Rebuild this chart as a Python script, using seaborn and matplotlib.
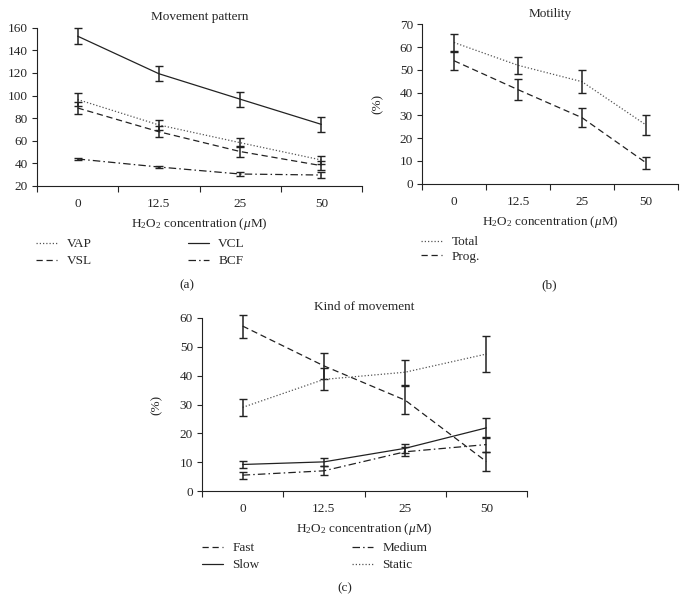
import numpy as np
import pandas as pd
import matplotlib
matplotlib.use("Agg")
import matplotlib.pyplot as plt
import seaborn as sns
from matplotlib.ticker import FixedLocator, NullFormatter
from matplotlib.lines import Line2D

# ---------------- data ----------------
conc = ["0", "12.5", "25", "50"]

# (a) Movement pattern
vap = [96.5, 74, 58.3, 43]
vap_err = [5.5, 4.4, 4.0, 3.5]
vsl = [89, 68, 50.5, 38]
vsl_err = [5, 5, 4.5, 4]
vcl = [152.5, 119.3, 96.8, 74.5]
vcl_err = [7, 6.5, 6.6, 6.5]
bcf = [43.9, 36.8, 30.6, 29.7]
bcf_err = [0.7, 1.0, 1.5, 3.0]

# (b) Motility
total = [62, 52, 44.8, 25.8]
total_err = [3.6, 3.8, 5.1, 4.4]
prog = [54, 41.3, 29, 9.2]
prog_err = [4, 4.5, 4.2, 2.7]

# (c) Kind of movement
fast = [57.2, 43.4, 31.5, 10.2]
fast_err = [4, 4.6, 4.8, 3.4]
slow = [9.2, 10.1, 14.8, 21.9]
slow_err = [1.2, 1.5, 1.5, 3.5]
medium = [5.5, 7.0, 13.6, 16.1]
medium_err = [1.2, 1.6, 1.6, 2.5]
static = [29, 38.7, 41.2, 47.5]
static_err = [3, 3.8, 4.3, 6.2]

# ---------------- style ----------------
sns.set_theme(style="ticks")
plt.rcParams["font.family"] = ["Liberation Serif", "DejaVu Serif"]
plt.rcParams["mathtext.fontset"] = "custom"
plt.rcParams["mathtext.rm"] = "Liberation Serif"
plt.rcParams["mathtext.it"] = "Liberation Serif:italic"
FS = 9.5

STY = {
    "dotted": dict(ls=(0, (1, 1.6)), color="#555555", lw=0.9),
    "dashed": dict(ls=(0, (5, 3)), color="#222222", lw=0.9),
    "solid": dict(ls="-", color="#222222", lw=0.9),
    "dashdot": dict(ls=(0, (6, 2.5, 1.2, 2.5)), color="#222222", lw=0.9),
}

fig = plt.figure(figsize=(6.87, 6.03), dpi=100)
W, H = 687.0, 603.0


def mkax(l, r, t, b):
    return fig.add_axes([l / W, 1 - b / H, (r - l) / W, (b - t) / H])


xlab = r"H$_2$O$_2$ concentration ($\mathit{\mu}$M)"


def draw(ax, series, ylim, yticks, title, xlab_y):
    pos = np.arange(len(conc))
    for name, vals, errs, st in series:
        df = pd.DataFrame({"x": pos, "y": vals})
        s = STY[st]
        sns.lineplot(data=df, x="x", y="y", ax=ax, color=s["color"],
                     linestyle=s["ls"], linewidth=s["lw"], legend=False)
        eb = ax.errorbar(pos, vals, yerr=errs, fmt="none", ecolor="#222222",
                         elinewidth=1.1, capsize=3.2, capthick=1.0)
        for art in eb.lines[1] + eb.lines[2]:
            art.set_clip_on(False)
    ax.set_xlim(-0.5, 3.5)
    ax.set_ylim(*ylim)
    ax.set_yticks(yticks)
    ax.set_xticks(pos)
    ax.set_xticklabels(conc, fontsize=FS)
    ax.tick_params(axis="x", which="major", length=0, pad=9)
    ax.xaxis.set_minor_locator(FixedLocator([-0.5, 0.5, 1.5, 2.5, 3.5]))
    ax.xaxis.set_minor_formatter(NullFormatter())
    ax.tick_params(axis="x", which="minor", length=4, width=0.8, direction="out")
    ax.tick_params(axis="y", length=3.5, width=0.8, direction="out", pad=3, labelsize=FS)
    for sp in ["top", "right"]:
        ax.spines[sp].set_visible(False)
    for sp in ["left", "bottom"]:
        ax.spines[sp].set_linewidth(0.8)
        ax.spines[sp].set_color("#222222")
    ax.set_title(title, fontsize=FS, pad=5.5)
    ax.set_xlabel(xlab, fontsize=FS)
    ax.xaxis.set_label_coords(0.5, xlab_y)
    ax.set_ylabel("")


def make_legend(series, anchor, ncol, colsp, labsp):
    hs = []
    for name, vals, errs, st in series:
        s = STY[st]
        hs.append(Line2D([0], [0], color=s["color"], linestyle=s["ls"], linewidth=s["lw"]))
    labels = [s[0] for s in series]
    fig.legend(hs, labels, loc="upper left", bbox_to_anchor=(anchor[0] / W, 1 - anchor[1] / H),
               ncol=ncol, frameon=False, fontsize=FS, handlelength=1.6, handletextpad=0.7,
               columnspacing=colsp, labelspacing=labsp, borderpad=0, borderaxespad=0)


# (a)
axa = mkax(37, 362, 27.7, 186)
ser_a = [("VAP", vap, vap_err, "dotted"), ("VSL", vsl, vsl_err, "dashed"),
         ("VCL", vcl, vcl_err, "solid"), ("BCF", bcf, bcf_err, "dashdot")]
draw(axa, ser_a, (20, 160), [20, 40, 60, 80, 100, 120, 140, 160], "Movement pattern", -0.19)
make_legend(ser_a, (36, 238), 2, 7.3, 0.38)
fig.text(187 / W, 1 - 285 / H, "(a)", ha="center", va="center", fontsize=FS)

# (b)
axb = mkax(422, 678, 24.3, 183.7)
ser_b = [("Total", total, total_err, "dotted"), ("Prog.", prog, prog_err, "dashed")]
draw(axb, ser_b, (0, 70), [0, 10, 20, 30, 40, 50, 60, 70], "Motility", -0.19)
axb.set_ylabel("(%)", fontsize=FS)
axb.yaxis.set_label_coords(-0.15, 0.5)
make_legend(ser_b, (421, 236), 1, 2, 0.16)
fig.text(549 / W, 1 - 285 / H, "(b)", ha="center", va="center", fontsize=FS)

# (c)
axc = mkax(202, 527, 318, 491)
ser_c = [("Fast", fast, fast_err, "dashed"), ("Slow", slow, slow_err, "solid"),
         ("Medium", medium, medium_err, "dashdot"), ("Static", static, static_err, "dotted")]
draw(axc, ser_c, (0, 60), [0, 10, 20, 30, 40, 50, 60], "Kind of movement", -0.175)
axc.set_ylabel("(%)", fontsize=FS)
axc.yaxis.set_label_coords(-0.12, 0.5)
make_legend(ser_c, (202, 542), 2, 7.0, 0.38)
fig.text(345 / W, 1 - 588 / H, "(c)", ha="center", va="center", fontsize=FS)

fig.savefig("out.png", dpi=100)
